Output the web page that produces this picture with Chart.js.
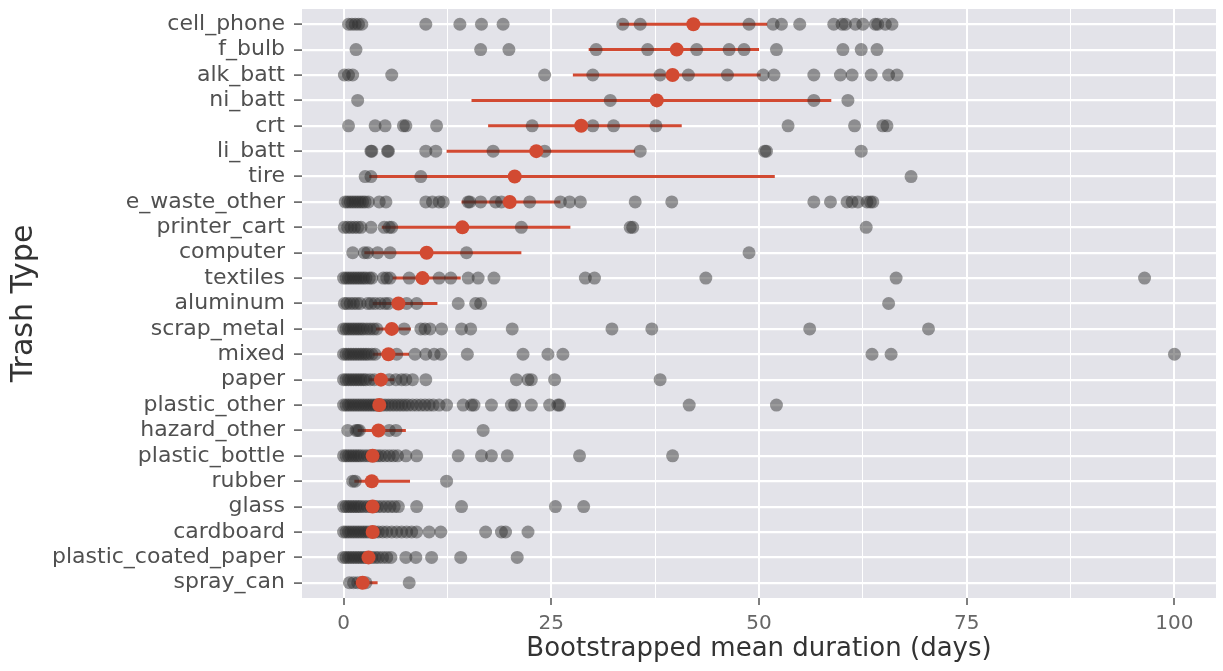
<!DOCTYPE html>
<html>
<head>
<meta charset="utf-8">
<script src="https://cdn.jsdelivr.net/npm/chart.js@4.4.1/dist/chart.umd.min.js"></script>
<style>
  html, body { margin: 0; padding: 0; background: #fff; }
  #wrap { width: 1223px; height: 671px; }
</style>
</head>
<body>
<div id="wrap"><canvas id="durationChart" width="1223" height="671"></canvas></div>
<script>
// categories, top to bottom
var categories = [
  "cell_phone", "f_bulb", "alk_batt", "ni_batt", "crt", "li_batt", "tire",
  "e_waste_other", "printer_cart", "computer", "textiles", "aluminum",
  "scrap_metal", "mixed", "paper", "plastic_other", "hazard_other",
  "plastic_bottle", "rubber", "glass", "cardboard", "plastic_coated_paper",
  "spray_can"
];

// bootstrapped mean and its interval (days)
var means  = [42.1, 40.1, 39.6, 37.7, 28.6, 23.2, 20.6, 20.0, 14.3, 10.0, 9.5, 6.6,
              5.8, 5.4, 4.5, 4.3, 4.2, 3.5, 3.4, 3.5, 3.5, 3.0, 2.3];
var ciLow  = [33.2, 29.5, 27.6, 15.4, 17.4, 12.4, 3.1, 14.2, 4.6, 2.5, 5.9, 3.5,
              3.9, 3.5, 3.1, 3.6, 1.7, 2.8, 1.3, 2.9, 3.0, 2.4, 1.3];
var ciHigh = [51.0, 50.0, 50.2, 58.7, 40.7, 35.1, 51.9, 26.1, 27.3, 21.4, 14.1, 11.3,
              8.1, 7.9, 6.1, 5.0, 7.5, 4.4, 8.0, 4.3, 4.0, 3.6, 4.1];

// individual durations per category (days)
var samples = [
  [0.6, 1.0, 1.4, 1.8, 2.2, 9.9, 14.0, 16.6, 19.2, 33.6, 35.7, 48.8, 51.7, 52.7, 54.9,
   59.0, 60.0, 60.4, 61.6, 62.5, 64.0, 64.3, 65.2, 66.0],
  [1.5, 16.5, 19.9, 30.4, 36.6, 42.5, 46.4, 48.2, 52.1, 60.1, 62.3, 64.2],
  [0.1, 0.6, 1.1, 5.8, 24.2, 30.0, 38.1, 41.5, 46.2, 50.5, 51.8, 56.6, 59.8, 61.2,
   63.5, 65.6, 66.6],
  [1.7, 32.1, 56.6, 60.7],
  [0.6, 3.8, 5.0, 7.2, 7.5, 11.2, 22.7, 30.0, 32.5, 37.6, 53.5, 61.5, 64.9, 65.4],
  [3.3, 3.4, 5.3, 5.4, 9.9, 11.1, 18.0, 24.2, 35.7, 50.7, 50.9, 62.3],
  [2.6, 3.3, 9.3, 68.3],
  [0.2, 0.5, 0.8, 1.1, 1.4, 1.7, 2.0, 2.3, 2.6, 3.0, 4.3, 5.1, 9.9, 10.7, 11.5, 12.0,
   15.0, 15.2, 16.5, 18.3, 19.0, 22.4, 26.1, 27.2, 28.5, 35.1, 39.5, 56.6, 58.6, 60.6,
   61.2, 61.9, 63.0, 63.4, 63.7],
  [0.1, 0.5, 0.9, 1.3, 1.7, 2.1, 3.3, 4.9, 5.5, 5.8, 21.4, 34.5, 34.8, 62.9],
  [1.1, 2.5, 2.9, 4.1, 5.6, 14.8, 48.8],
  [0.0, 0.3, 0.6, 0.9, 1.2, 1.5, 1.8, 2.1, 2.4, 2.7, 3.1, 3.4, 4.8, 5.2, 5.6, 7.9,
   11.5, 12.9, 15.0, 16.2, 18.1, 29.1, 30.2, 43.6, 66.5, 96.4],
  [0.1, 0.4, 0.8, 1.2, 1.6, 2.0, 2.9, 3.3, 3.8, 4.4, 5.0, 5.4, 7.6, 8.8, 13.8, 15.9,
   16.5, 65.6],
  [0.0, 0.3, 0.6, 0.9, 1.2, 1.5, 1.8, 2.1, 2.4, 2.8, 3.2, 3.6, 4.0, 7.3, 9.3, 9.8,
   10.4, 11.8, 14.2, 15.3, 20.3, 32.3, 37.1, 56.1, 70.4],
  [0.0, 0.3, 0.6, 0.9, 1.2, 1.5, 1.8, 2.1, 2.4, 2.7, 3.0, 3.4, 3.8, 6.4, 8.6, 9.9,
   10.9, 11.7, 14.9, 21.6, 24.6, 26.4, 63.6, 65.9, 100.0],
  [0.0, 0.3, 0.6, 0.9, 1.2, 1.5, 1.8, 2.1, 2.4, 2.7, 3.2, 3.7, 5.5, 6.3, 7.0, 7.5,
   8.3, 9.9, 20.8, 22.2, 22.6, 25.4, 38.1],
  [0.0, 0.3, 0.6, 0.9, 1.2, 1.5, 1.8, 2.1, 2.4, 2.7, 3.0, 3.3, 3.6, 3.9, 4.2, 4.6,
   5.0, 5.4, 5.8, 6.2, 6.6, 7.0, 7.4, 7.8, 8.3, 8.8, 9.3, 9.8, 10.3, 10.8, 11.5, 12.4,
   14.4, 15.4, 15.7, 17.8, 20.2, 20.6, 22.6, 24.8, 25.8, 26.0, 41.6, 52.1],
  [0.5, 1.5, 1.7, 1.9, 5.5, 6.3, 16.8],
  [0.0, 0.3, 0.6, 0.9, 1.2, 1.5, 1.8, 2.1, 2.5, 2.9, 3.3, 3.7, 4.1, 4.5, 5.0, 5.5,
   6.0, 6.5, 7.5, 8.8, 13.8, 16.6, 17.8, 19.7, 28.4, 39.6],
  [1.1, 1.4, 12.4],
  [0.0, 0.3, 0.6, 0.9, 1.2, 1.5, 1.8, 2.1, 2.5, 2.9, 3.3, 3.7, 4.1, 4.6, 5.1, 5.6,
   6.1, 6.6, 8.8, 14.2, 25.5, 28.9],
  [0.0, 0.3, 0.6, 0.9, 1.2, 1.5, 1.8, 2.1, 2.4, 2.7, 3.0, 3.4, 3.8, 4.2, 4.7, 5.2,
   5.8, 6.4, 7.0, 7.6, 8.2, 8.8, 10.3, 11.7, 17.1, 19.0, 19.5, 22.2],
  [0.0, 0.3, 0.6, 0.9, 1.2, 1.5, 1.8, 2.1, 2.4, 2.7, 3.0, 3.4, 3.8, 4.2, 4.7, 5.2,
   5.7, 7.5, 8.7, 10.6, 14.1, 20.9],
  [0.7, 1.2, 1.7, 2.2, 2.7, 7.9]
];

var xTicks = [0, 12.5, 25, 37.5, 50, 62.5, 75, 87.5, 100];
var xTickLabels = ["0", "", "25", "", "50", "", "75", "", "100"];

var samplePoints = [];
samples.forEach(function (vals, i) {
  vals.forEach(function (v) {
    samplePoints.push({ x: v, y: i + 1 });
  });
});

var meanPoints = means.map(function (m, i) {
  return { x: m, y: i + 1 };
});

var ciSegments = [];
categories.forEach(function (c, i) {
  ciSegments.push({ x: ciLow[i], y: i + 1 }, { x: ciHigh[i], y: i + 1 }, { x: null, y: null });
});

// grey panel behind the plot
var panelBackground = {
  id: "panelBackground",
  beforeDraw: function (chart) {
    var a = chart.chartArea;
    var ctx = chart.ctx;
    ctx.save();
    ctx.fillStyle = "#e3e3e9";
    ctx.fillRect(a.left, a.top, a.right - a.left, a.bottom - a.top);
    ctx.restore();
  }
};

var ctx = document.getElementById("durationChart").getContext("2d");

var durationChart = new Chart(ctx, {
  type: "scatter",
  data: {
    datasets: [
      {
        label: "mean",
        data: meanPoints,
        backgroundColor: "#d24a32",
        borderWidth: 0,
        pointRadius: 7,
        order: 0
      },
      {
        label: "durations",
        data: samplePoints,
        backgroundColor: "rgba(45, 45, 45, 0.48)",
        borderWidth: 0,
        pointRadius: 6.5,
        order: 1
      },
      {
        label: "interval",
        data: ciSegments,
        showLine: true,
        spanGaps: false,
        borderColor: "#d24a32",
        borderWidth: 3,
        pointRadius: 0,
        order: 2
      }
    ]
  },
  options: {
    responsive: false,
    animation: false,
    devicePixelRatio: 1,
    layout: { padding: { top: 9, right: 0, bottom: 0, left: 0 } },
    plugins: {
      legend: { display: false },
      tooltip: { enabled: false }
    },
    scales: {
      x: {
        type: "linear",
        min: -5,
        max: 105,
        afterBuildTicks: function (scale) {
          scale.ticks = xTicks.map(function (v) { return { value: v }; });
        },
        afterFit: function (scale) {
          scale.height = 73;
          scale.paddingLeft = 0;
          scale.paddingRight = 0;
        },
        border: { display: false },
        grid: {
          color: "#ffffff",
          lineWidth: function (c) {
            return c.tick && c.tick.value % 25 === 0 ? 2 : 1;
          },
          tickColor: function (c) {
            return c.tick && c.tick.value % 25 === 0 ? "#555555" : "rgba(0,0,0,0)";
          },
          tickLength: 7,
          tickWidth: 1.5
        },
        ticks: {
          autoSkip: false,
          maxRotation: 0,
          padding: 7,
          color: "#666666",
          font: { family: "DejaVu Sans", size: 20 },
          callback: function (v) {
            return xTickLabels[xTicks.indexOf(v)];
          }
        },
        title: {
          display: true,
          text: "Bootstrapped mean duration (days)",
          color: "#333333",
          font: { family: "DejaVu Sans", size: 26 },
          padding: { top: 0, bottom: 6 }
        }
      },
      y: {
        type: "linear",
        min: 0.4,
        max: 23.6,
        reverse: true,
        afterBuildTicks: function (scale) {
          scale.ticks = categories.map(function (c, i) { return { value: i + 1 }; });
        },
        afterFit: function (scale) {
          scale.width = 302;
          scale.paddingTop = 0;
          scale.paddingBottom = 0;
        },
        border: { display: false },
        grid: {
          color: "#ffffff",
          lineWidth: 2.2,
          tickColor: "#555555",
          tickLength: 8,
          tickWidth: 1.5
        },
        ticks: {
          autoSkip: false,
          padding: 9,
          color: "#505050",
          font: { family: "DejaVu Sans", size: 22 },
          callback: function (v) {
            return categories[v - 1];
          }
        },
        title: {
          display: true,
          text: "Trash Type",
          color: "#333333",
          font: { family: "DejaVu Sans", size: 30 },
          padding: { top: 6, bottom: 0 }
        }
      }
    }
  },
  plugins: [panelBackground]
});
</script>
</body>
</html>
